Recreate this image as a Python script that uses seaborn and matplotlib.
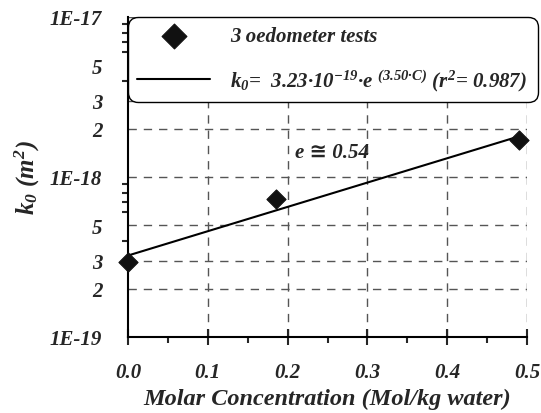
import numpy as np
import pandas as pd
import matplotlib
matplotlib.use("Agg")
import matplotlib.pyplot as plt
import seaborn as sns
from matplotlib.ticker import FixedLocator, FixedFormatter, NullFormatter

# data
conc = [0.0, 0.185, 0.49]
k0 = [2.95e-19, 7.3e-19, 1.70e-18]
fit_a = 3.23e-19
fit_b = 3.50
fit_x = np.linspace(0.0, 0.49, 50)
fit_y = fit_a * np.exp(fit_b * fit_x)

ytick_vals = [1e-19, 2e-19, 3e-19, 5e-19, 1e-18, 2e-18, 3e-18, 5e-18, 1e-17]
ytick_labels = ["1E-19", "2", "3", "5", "1E-18", "2", "3", "5", "1E-17"]
yminor_vals = [4e-19, 6e-19, 7e-19, 8e-19, 9e-19, 4e-18, 6e-18, 7e-18, 8e-18, 9e-18]
xtick_vals = [0.0, 0.1, 0.2, 0.3, 0.4, 0.5]
xtick_labels = ["0.0", "0.1", "0.2", "0.3", "0.4", "0.5"]

sns.set_style("white")
plt.rcParams['font.family'] = ['Liberation Serif', 'DejaVu Sans']
plt.rcParams['font.weight'] = 'bold'
plt.rcParams['font.style'] = 'italic'
plt.rcParams['mathtext.fontset'] = 'custom'
plt.rcParams['mathtext.rm'] = 'Liberation Serif:bold:italic'
plt.rcParams['mathtext.it'] = 'Liberation Serif:bold:italic'
plt.rcParams['mathtext.bf'] = 'Liberation Serif:bold:italic'

fig = plt.figure(figsize=(5.41, 4.14), dpi=100)
ax = fig.add_axes([128/541, (414-338)/414, (527-128)/541, (338-18)/414])

df_pts = pd.DataFrame({"C": conc, "k": k0})
df_fit = pd.DataFrame({"C": fit_x, "k": fit_y})

ax.set_yscale("log")
ax.set_xlim(0, 0.5)
ax.set_ylim(1e-19, 1e-17)

# grid
for yv in ytick_vals[1:]:
    ax.axhline(yv, color="#555555", lw=1.0, ls=(0, (6, 5)), zorder=0)
for xv in xtick_vals[1:]:
    ax.axvline(xv, color="#555555", lw=1.0, ls=(0, (6, 5)), zorder=0)

sns.lineplot(data=df_fit, x="C", y="k", ax=ax, color="black", lw=1.5,
             label=r"$k_0$=  3.23·10$^{-19}$·e $^{(3.50·C)}$ ($r^2$= 0.987)", zorder=3)
sns.scatterplot(data=df_pts, x="C", y="k", ax=ax, marker="D", s=95, color="#111111",
                edgecolor="#111111", label="3 oedometer tests", zorder=4, clip_on=False)

ax.yaxis.set_major_locator(FixedLocator(ytick_vals))
ax.yaxis.set_major_formatter(FixedFormatter(ytick_labels))
ax.yaxis.set_minor_locator(FixedLocator(yminor_vals))
ax.yaxis.set_minor_formatter(NullFormatter())
ax.xaxis.set_major_locator(FixedLocator(xtick_vals))
ax.xaxis.set_major_formatter(FixedFormatter(xtick_labels))
ax.xaxis.set_minor_locator(FixedLocator([0.05, 0.15, 0.25, 0.35, 0.45]))

ax.tick_params(axis="y", which="major", direction="out", length=7.5, width=1.5, labelsize=15, pad=11)
ax.tick_params(axis="y", which="minor", direction="out", length=4, width=1.5, left=True)
ax.tick_params(axis="x", which="major", direction="inout", length=12, width=1.5, labelsize=15, pad=12, bottom=True)
ax.tick_params(axis="x", which="minor", direction="out", length=4, width=1.5, bottom=True)

for lab in ax.get_xticklabels() + ax.get_yticklabels():
    lab.set_fontweight("bold")
    lab.set_fontstyle("italic")

for s in ["top", "right"]:
    ax.spines[s].set_visible(False)
for s in ["left", "bottom"]:
    ax.spines[s].set_linewidth(1.5)
    ax.spines[s].set_color("black")

ax.set_xlabel("Molar Concentration (Mol/kg water)", fontsize=17.5, fontweight="bold", fontstyle="italic", labelpad=4)
ax.set_ylabel(r"$k_0$ ($m^2$)", fontsize=18, fontweight="bold", fontstyle="italic", labelpad=6)

ax.text(0.209, 1.43e-18, "e ≅ 0.54", fontsize=15, fontweight="bold", fontstyle="italic",
        family=['Liberation Serif', 'DejaVu Sans'], va="center", ha="left")

h, l = ax.get_legend_handles_labels()
order = [1, 0]
leg = ax.legend([h[i] for i in order], [l[i] for i in order],
                loc="upper left", bbox_to_anchor=(128/541, (414-100)/414, 410/541, 82/414),
                bbox_transform=fig.transFigure, mode="expand", fontsize=15,
                frameon=True, fancybox=True, edgecolor="black", framealpha=1,
                handlelength=3.5, borderpad=0.45, labelspacing=1.0, handletextpad=0.95,
                markerscale=1.3, borderaxespad=0)
leg.get_frame().set_linewidth(1.0)
leg.get_frame().set_boxstyle("round,pad=0,rounding_size=0.5")

fig.savefig("out.png", dpi=100)
